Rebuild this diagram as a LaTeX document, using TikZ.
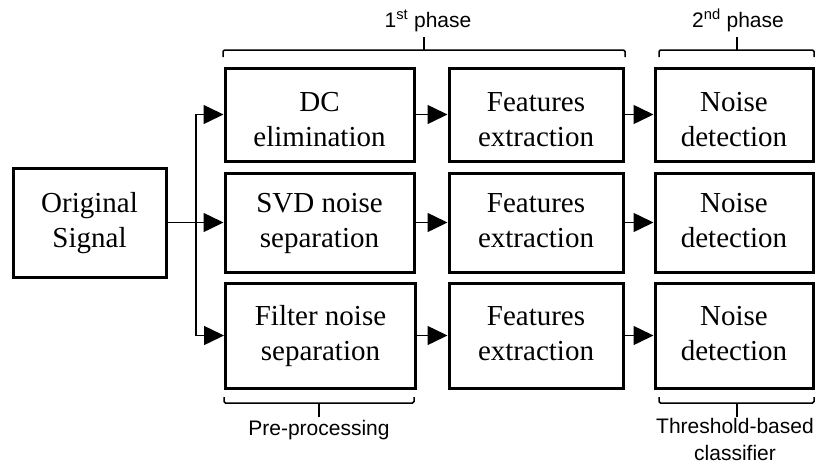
\documentclass[tikz,border=0pt]{standalone}
\usepackage{fontspec}
\setmainfont{Liberation Serif}
\setsansfont{Liberation Sans}
\usetikzlibrary{arrows.meta}
\newcommand{\boxtxt}[2][0pt]{\raisebox{#1}[\height][\depth]{\begin{tabular}{@{}c@{}}#2\end{tabular}}}
\tikzset{
  blk/.style={draw=black, line width=3pt, align=center, inner sep=0pt,
    font=\fontsize{29}{35}\selectfont},
  arr/.style={line width=1.5pt, -{Triangle[length=20pt,width=19pt]}},
  brk/.style={line width=1.5pt, rounded corners=1.5pt},
  lbl/.style={font=\sffamily\fontsize{21}{27}\selectfont, align=center, inner sep=0pt}
}
\begin{document}
\begin{tikzpicture}[x=1pt,y=-1pt]
\useasboundingbox (0,0) rectangle (815,464);
% original
\node[blk, minimum width=153pt, minimum height=109pt] (orig) at (89.5,222.5) {\boxtxt{Original\\Signal}};
% column 1
\node[blk, minimum width=189pt, minimum height=93pt] (dc) at (319.5,114.5) {\boxtxt[-7pt]{DC\\elimination}};
\node[blk, minimum width=189pt, minimum height=99pt] (svd) at (319.5,222.5) {\boxtxt{SVD noise\\separation}};
\node[blk, minimum width=190pt, minimum height=105pt] (filt) at (320.5,335.5) {\boxtxt{Filter noise\\separation}};
% column 2
\node[blk, minimum width=174pt, minimum height=93pt] (fe1) at (536,114.5) {\boxtxt[-7pt]{Features\\extraction}};
\node[blk, minimum width=174pt, minimum height=99pt] (fe2) at (536,222.5) {\boxtxt{Features\\extraction}};
\node[blk, minimum width=174pt, minimum height=105pt] (fe3) at (536,335.5) {\boxtxt{Features\\extraction}};
% column 3
\node[blk, minimum width=158pt, minimum height=93pt] (nd1) at (734,114.5) {\boxtxt[-7pt]{Noise\\detection}};
\node[blk, minimum width=158pt, minimum height=99pt] (nd2) at (734,222.5) {\boxtxt{Noise\\detection}};
\node[blk, minimum width=158pt, minimum height=105pt] (nd3) at (734,335.5) {\boxtxt{Noise\\detection}};
% connectors
\coordinate (sp) at (196,222.5);
\draw[arr] (orig.east) -- (svd.west);
\draw[arr] (sp) |- (dc.west);
\draw[arr] (sp) |- (filt.west);
\draw[arr] (dc.east) -- (fe1.west);
\draw[arr] (svd.east) -- (fe2.west);
\draw[arr] (filt.east) -- (fe3.west);
\draw[arr] (fe1.east) -- (nd1.west);
\draw[arr] (fe2.east) -- (nd2.west);
\draw[arr] (fe3.east) -- (nd3.west);
% brackets top
\draw[brk] (223,57) -- (223,50) -- (625,50) -- (625,57);
\draw[line width=1.5pt] (424,50) -- (424,37);
\draw[brk] (659,57) -- (659,50) -- (814,50) -- (814,57);
\draw[line width=1.5pt] (737,50) -- (737,37);
% brackets bottom
\draw[brk] (224,397) -- (224,403) -- (414,403) -- (414,397);
\draw[line width=1.5pt] (319,403) -- (319,417);
\draw[brk] (659,397) -- (659,403) -- (814,403) -- (814,397);
\draw[line width=1.5pt] (737,403) -- (737,417);
% labels
\node[lbl, anchor=base] (l1) at (428,27) {1\textsuperscript{st} phase};
\node[lbl, anchor=base] (l2) at (738,27) {2\textsuperscript{nd} phase};
\node[lbl, anchor=north] (l3) at (319,420) {Pre-processing};
\node[lbl, anchor=north] (l4) at (735,418) {Threshold-based\\classifier};
\end{tikzpicture}
\end{document}
